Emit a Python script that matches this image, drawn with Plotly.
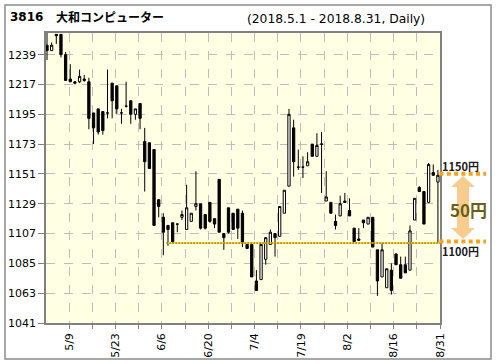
import plotly.graph_objects as go

# ---- data ----
open_ = [1246, 1242, 1254, 1254, 1239, 1221, 1219, 1219, 1221, 1219,
         1196, 1199, 1197, 1196, 1218, 1216, 1196, 1201, 1205, 1195,
         1203, 1175, 1174, 1169, 1132, 1119, 1113, 1115, 1114, 1119,
         1110, 1116, 1127, 1129, 1121, 1130, 1118, 1147, 1107, 1126,
         1122, 1125, 1122, 1099, 1099, 1072, 1073, 1088, 1099, 1107,
         1105, 1122, 1142, 1185, 1156, 1156, 1157, 1173, 1164, 1173,
         1131, 1130, 1116, 1120, 1131, 1124, 1111, 1103, 1117, 1114,
         1119, 1095, 1075, 1067, 1080, 1092, 1084, 1084, 1080, 1117,
         1141, 1138, 1130, 1152, 1145]
high = [1256, 1248, 1254, 1254, 1241, 1232, 1219, 1228, 1224, 1222,
        1196, 1199, 1197, 1228, 1218, 1216, 1199, 1219, 1205, 1199,
        1203, 1185, 1174, 1169, 1132, 1122, 1113, 1115, 1114, 1124,
        1143, 1122, 1153, 1129, 1121, 1130, 1118, 1147, 1107, 1126,
        1122, 1125, 1124, 1099, 1099, 1080, 1099, 1104, 1110, 1107,
        1127, 1139, 1199, 1191, 1169, 1164, 1167, 1173, 1181, 1182,
        1153, 1130, 1121, 1135, 1137, 1133, 1111, 1111, 1117, 1119,
        1119, 1095, 1100, 1081, 1085, 1092, 1090, 1090, 1113, 1133,
        1142, 1138, 1159, 1158, 1154]
low = [1235, 1242, 1247, 1237, 1220, 1219, 1217, 1218, 1219, 1184,
       1173, 1180, 1180, 1192, 1192, 1195, 1188, 1200, 1188, 1191,
       1184, 1138, 1155, 1113, 1119, 1091, 1098, 1100, 1108, 1117,
       1110, 1116, 1124, 1110, 1110, 1115, 1111, 1108, 1095, 1107,
       1110, 1103, 1097, 1096, 1075, 1065, 1073, 1084, 1099, 1090,
       1105, 1122, 1142, 1149, 1154, 1148, 1157, 1164, 1164, 1137,
       1131, 1122, 1110, 1120, 1130, 1120, 1101, 1102, 1111, 1114,
       1097, 1061, 1075, 1067, 1062, 1084, 1074, 1078, 1080, 1117,
       1138, 1114, 1130, 1150, 1100]
close = [1242, 1246, 1253, 1239, 1220, 1219, 1218, 1223, 1220, 1192,
         1185, 1182, 1183, 1196, 1205, 1199, 1196, 1201, 1195, 1199,
         1192, 1160, 1155, 1113, 1127, 1108, 1110, 1101, 1114, 1121,
         1126, 1122, 1129, 1111, 1111, 1116, 1114, 1108, 1104, 1108,
         1110, 1111, 1100, 1096, 1075, 1065, 1099, 1104, 1108, 1104,
         1127, 1139, 1195, 1160, 1156, 1156, 1160, 1164, 1172, 1173,
         1134, 1122, 1113, 1129, 1130, 1120, 1101, 1102, 1115, 1119,
         1097, 1072, 1095, 1081, 1065, 1084, 1074, 1078, 1109, 1133,
         1138, 1114, 1158, 1150, 1150]
x_index = list(range(len(open_)))

y_ticks = [1041, 1063, 1085, 1107, 1129, 1151, 1173, 1195, 1217, 1239]
x_labels = ["5/9", "5/23", "6/6", "6/20", "7/4", "7/19", "8/2", "8/16", "8/31"]

code_text = "3816"
name_text = "大和コンピューター"
period_text = "(2018.5.1 - 2018.8.31, Daily)"
ref_level = 1100
upper_level = 1150
ref_start = 26
upper_label = "1150円"
lower_label = "1100円"
diff_label = "50円"

# ---- layout geometry ----
W, H = 496, 364
L, R, T, B = 46, 440, 33, 323
pw, ph = R - L, B - T
y_range = [1041, 1255]
x_range = [-0.215, 84.45]
n_div = 17
step = (x_range[1] - x_range[0]) / n_div
tickvals = [x_range[0] + k * step for k in range(1, n_div + 1)]
ticktext = []
li = 0
for k in range(1, n_div + 1):
    if k % 2 == 1:
        ticktext.append(x_labels[li]); li += 1
    else:
        ticktext.append("")

def px(xp):
    return (xp - L) / pw

def py(yp):
    return (B - yp) / ph

def vy(v):
    return (v - y_range[0]) / (y_range[1] - y_range[0])

FONT = "DejaVu Sans, Noto Sans CJK JP"
JFONT = "Noto Sans CJK JP, DejaVu Sans"

fig = go.Figure()
fig.add_trace(go.Candlestick(
    x=x_index, open=open_, high=high, low=low, close=close,
    increasing=dict(line=dict(color="black", width=1), fillcolor="white"),
    decreasing=dict(line=dict(color="black", width=1), fillcolor="black"),
    whiskerwidth=0, hoverinfo="skip", showlegend=False,
))

shapes = []
shapes.append(dict(type="line", xref="x", yref="y", x0=ref_start - 0.3, x1=x_range[1],
                   y0=ref_level, y1=ref_level, line=dict(color="#FFD200", width=1.6)))
shapes.append(dict(type="line", xref="x", yref="y", x0=ref_start - 0.3, x1=x_range[1],
                   y0=ref_level, y1=ref_level, line=dict(color="black", width=1, dash="1px,2px")))
shapes.append(dict(type="rect", xref="paper", yref="paper", x0=px(5), x1=px(491), y0=py(359), y1=py(5),
                   line=dict(color="#8C8C8C", width=1.5), fillcolor="rgba(0,0,0,0)", layer="below"))
for lv in (upper_level, ref_level):
    shapes.append(dict(type="line", xref="paper", yref="paper", x0=px(439.5), x1=px(486),
                       y0=vy(lv) + 1.5 / ph, y1=vy(lv) + 1.5 / ph,
                       line=dict(color="#F5A31E", width=4, dash="4px,3.3px")))
ax_c = 463
pts = [(ax_c, 176), (475, 187), (469, 187), (469, 228), (475, 228), (ax_c, 239),
       (451, 228), (457, 228), (457, 187), (451, 187)]
path = "M " + " L ".join(f"{px(a):.5f},{py(b):.5f}" for a, b in pts) + " Z"
shapes.append(dict(type="path", xref="paper", yref="paper", path=path,
                   fillcolor="#F8CB8E", line=dict(width=0)))

annotations = [
    dict(text=f"<b>{code_text}</b>", x=px(8), y=py(17), xref="paper", yref="paper",
         xanchor="left", yanchor="middle", showarrow=False, font=dict(family=FONT, size=12, color="black")),
    dict(text=f"<b>{name_text}</b>", x=px(54), y=py(17), xref="paper", yref="paper",
         xanchor="left", yanchor="middle", showarrow=False, font=dict(family=JFONT, size=12, color="black")),
    dict(text=period_text, x=px(245), y=py(19), xref="paper", yref="paper",
         xanchor="left", yanchor="middle", showarrow=False, font=dict(family=FONT, size=12.3, color="black")),
    dict(text=f"<b>{upper_label}</b>", x=px(460), y=vy(upper_level) + 9 / ph, xref="paper", yref="paper",
         xanchor="center", yanchor="middle", showarrow=False, font=dict(family=JFONT, size=11, color="#1a1a1a")),
    dict(text=f"<b>{lower_label}</b>", x=px(460), y=vy(ref_level) - 8 / ph, xref="paper", yref="paper",
         xanchor="center", yanchor="middle", showarrow=False, font=dict(family=JFONT, size=11, color="#1a1a1a")),
    dict(text=f"<b>{diff_label}</b>", x=px(468), y=py(209), xref="paper", yref="paper",
         xanchor="center", yanchor="middle", showarrow=False, font=dict(family=JFONT, size=17, color="#6A5F14")),
]

fig.update_layout(
    width=W, height=H,
    margin=dict(l=L, r=W - R, t=T, b=H - B, pad=0, autoexpand=False),
    paper_bgcolor="white", plot_bgcolor="#FFFFE4",
    shapes=shapes, annotations=annotations, showlegend=False,
    xaxis=dict(range=x_range, rangeslider=dict(visible=False), tickmode="array",
               tickvals=tickvals, ticktext=ticktext, tickangle=-90, automargin=False,
               showgrid=True, gridcolor="#BDBDBD", griddash="dash", gridwidth=1,
               ticks="outside", ticklen=4, tickcolor="#808080",
               showline=True, mirror=True, linecolor="#808080", linewidth=1.5,
               zeroline=False, tickfont=dict(family=FONT, size=11, color="black")),
    yaxis=dict(range=y_range, tickmode="array", tickvals=y_ticks, automargin=False,
               ticktext=[str(v) for v in y_ticks],
               showgrid=True, gridcolor="#BDBDBD", griddash="dash", gridwidth=1,
               ticks="outside", ticklen=6, tickcolor="#808080",
               showline=True, mirror=True, linecolor="#808080", linewidth=1.5,
               zeroline=False, tickfont=dict(family=FONT, size=11, color="black")),
)

fig.write_html("out.html", config={"displayModeBar": False},
               post_script="document.body.style.margin='0';document.body.style.padding='0';"
                           "document.body.style.overflow='hidden';")
